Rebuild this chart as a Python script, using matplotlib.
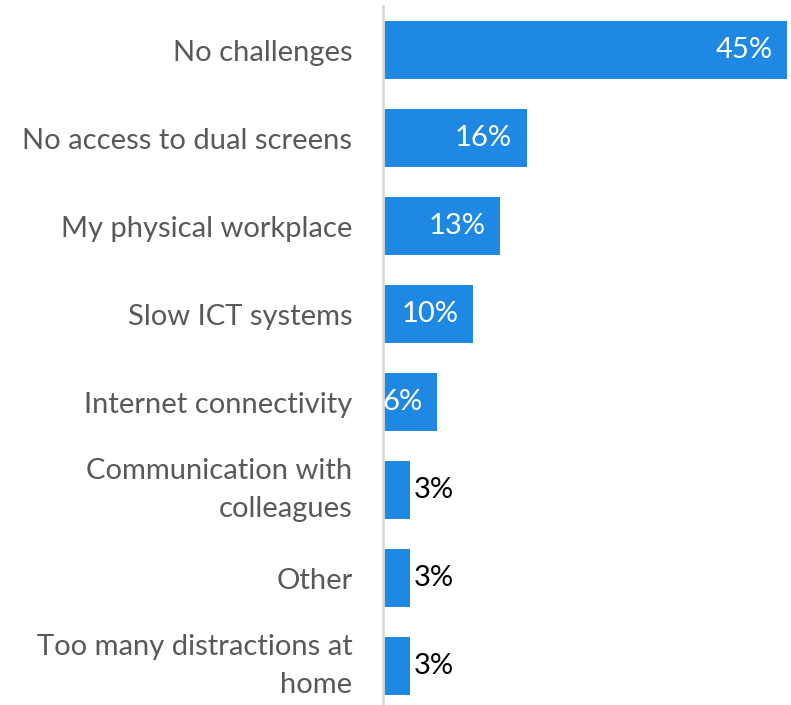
import matplotlib.pyplot as plt

# Challenges reported while working from home (share of respondents)
categorias = [
    "No challenges",
    "No access to dual screens",
    "My physical workplace",
    "Slow ICT systems",
    "Internet connectivity",
    "Communication with\ncolleagues",
    "Other",
    "Too many distractions at\nhome",
]
porcentajes = [45, 16, 13, 10, 6, 3, 3, 3]

azul = "#1f88e3"
gris_texto = "#595959"

plt.rcParams["font.family"] = ["Lato", "DejaVu Sans"]

fig = plt.figure(figsize=(7.91, 7.05), dpi=100)
ax = fig.add_axes([383 / 791, 0, 404 / 791, 699 / 705])

posiciones = list(range(len(categorias)))
barras = ax.barh(posiciones, porcentajes, height=0.66, color=azul)

ax.set_xlim(0, 45)
ax.set_ylim(7.443, -0.5)

# Etiquetas de categoria a la izquierda
ax.set_yticks(posiciones)
ax.set_yticklabels(categorias, fontsize=21, color=gris_texto, linespacing=1.55)
for etiqueta in ax.get_yticklabels():
    # las de dos lineas se centran en bloque
    if "\n" in etiqueta.get_text():
        etiqueta.set_va("center")
ax.tick_params(axis="y", length=0, pad=22)
ax.set_xticks([])

for lado in ["top", "right", "bottom"]:
    ax.spines[lado].set_visible(False)
ax.spines["left"].set_color("#d9d9d9")
ax.spines["left"].set_linewidth(2)

# Valores: dentro de la barra si cabe, fuera si no
for barra, valor in zip(barras, porcentajes):
    y = barra.get_y() + barra.get_height() / 2
    if valor >= 5:
        ax.annotate(f"{valor}%", (valor, y), xytext=(-10.5, 0), textcoords="offset points",
                    ha="right", va="center", color="white", fontsize=21)
    else:
        ax.annotate(f"{valor}%", (valor, y), xytext=(2.5, 0), textcoords="offset points",
                    ha="left", va="center", color="black", fontsize=21)

plt.savefig("out.png", dpi=100)
